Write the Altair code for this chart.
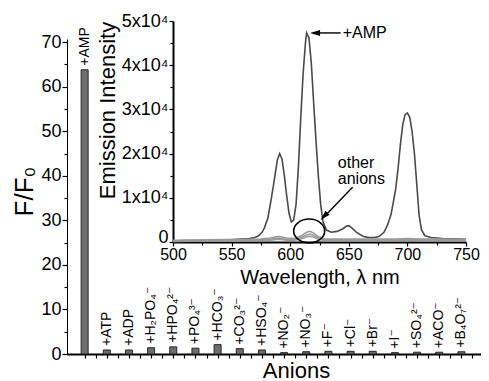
import altair as alt
import pandas as pd

# ---------------- data ----------------
anions = ["+AMP", "+ATP", "+ADP", "+H₂PO₄⁻", "+HPO₄²⁻", "+PO₄³⁻", "+HCO₃⁻", "+CO₃²⁻",
          "+HSO₄⁻", "+NO₂⁻", "+NO₃⁻", "+F⁻", "+Cl⁻", "+Br⁻", "+I⁻", "+SO₄²⁻", "+ACO⁻", "+B₄O₇²⁻"]
ratios = [63.8, 0.9, 0.9, 1.4, 1.6, 1.3, 2.1, 1.2, 0.9, 0.3, 0.5, 0.6, 0.6, 0.6, 0.3, 0.4, 0.4, 0.5]

wavelengths = [500, 510, 520, 530, 540, 550, 560, 565, 570, 573, 576, 578, 581, 584, 587, 589, 591, 593, 595,
               597, 599, 601, 603, 605, 607, 609, 611, 613, 614, 616, 618, 620, 622, 624, 626, 628, 631, 635, 640,
               645, 648, 650, 653, 657, 662, 667, 672, 676, 680, 683, 686, 688, 690, 692, 694, 696, 698, 700, 702,
               704, 706, 708, 710, 712, 715, 720, 730, 740, 750]
amp_intensity = [0.02, 0.03, 0.03, 0.04, 0.05, 0.05, 0.07, 0.08, 0.1, 0.14, 0.22, 0.32, 0.55, 1.0, 1.5, 1.85, 2.0, 1.88, 1.5,
                 1.05, 0.65, 0.45, 0.5, 0.85, 1.7, 2.8, 3.8, 4.5, 4.73, 4.62, 4.05, 3.15, 2.3, 1.5, 0.85, 0.45, 0.27, 0.22, 0.24,
                 0.3, 0.36, 0.37, 0.31, 0.21, 0.13, 0.1, 0.1, 0.13, 0.22, 0.38, 0.62, 0.9, 1.2, 1.65, 2.2, 2.65, 2.88, 2.92, 2.82,
                 2.5, 2.0, 1.3, 0.6, 0.28, 0.14, 0.1, 0.08, 0.07, 0.06]

other_wavelengths = [500, 530, 560, 575, 583, 590, 597, 604, 610, 614, 617, 620, 624, 630, 645, 660, 690, 700, 710, 730, 750]
other_a = [0.04, 0.05, 0.06, 0.07, 0.09, 0.13, 0.09, 0.08, 0.15, 0.22, 0.24, 0.2, 0.12, 0.07, 0.07, 0.07, 0.07, 0.08, 0.07, 0.07, 0.06]
other_b = [0.02, 0.03, 0.04, 0.05, 0.06, 0.09, 0.06, 0.06, 0.11, 0.16, 0.18, 0.15, 0.09, 0.05, 0.05, 0.05, 0.05, 0.06, 0.05, 0.05, 0.04]
other_c = [0.01, 0.02, 0.02, 0.03, 0.04, 0.06, 0.04, 0.04, 0.08, 0.12, 0.13, 0.11, 0.06, 0.03, 0.03, 0.03, 0.03, 0.04, 0.03, 0.03, 0.03]

# annotations (inset data coordinates: nm, x10^4)
ellipse_pos = {"wl": 616.2, "I": 0.25}
arrow_amp = {"wl": 643.1, "wl2": 623.7, "I": 4.73, "I2": 4.73}
arrow_amp_head = {"wl": 621.2, "I": 4.73, "angle": 0}
arrow_other = {"wl": 653.2, "wl2": 629.6, "I": 1.24, "I2": 0.59}
arrow_other_head = {"wl": 628.9, "I": 0.58, "angle": 314}
notes = [{"wl": 644.8, "I": 4.73, "t": "+AMP"},
         {"wl": 640.6, "I": 1.79, "t": "other"},
         {"wl": 640.6, "I": 1.43, "t": "anions"}]

FONT = "Liberation Sans, Arial, DejaVu Sans, sans-serif"

# ---------------- main bar chart ----------------
bars_df = pd.DataFrame({"idx": list(range(len(anions))), "anion": anions, "ratio": ratios})

x_main = alt.X("idx:Q",
               scale=alt.Scale(domain=[-0.57, 17.93], range=[0, 420], nice=False, zero=False),
               axis=alt.Axis(values=[i * 0.5 for i in range(0, 36)], labels=False, tickSize=4,
                             domainWidth=2, title="Anions", titleFontSize=22, titleX=229, titleY=16,
                             titleBaseline="middle", titleAlign="center"))
y_main = alt.Y("ratio:Q",
               scale=alt.Scale(domain=[0, 70.7], nice=False),
               axis=alt.Axis(values=[i * 5 for i in range(15)],
                             labelExpr="datum.value % 10 == 0 ? datum.label : ''",
                             tickSize={"condition": {"test": "datum.value % 10 == 0", "value": 5}, "value": 3},
                             labelFontSize=18, labelPadding=1, labelOverlap=False,
                             title="F/F₀", titleFontSize=26, titleAngle=270, titleX=-43, titleY=152,
                             titleAlign="center", titleBaseline="middle"))

bars = alt.Chart(bars_df).mark_bar(size=7, color="#6e6e6e", stroke="#262626", strokeWidth=1).encode(
    x=x_main, y=y_main)
bar_labels = alt.Chart(bars_df).mark_text(angle=270, align="left", baseline="middle", dx=4,
                                          fontSize=14, font=FONT, color="black").encode(
    x=x_main, y=y_main, text="anion:N")

main = alt.layer(bars, bar_labels)

# ---------------- inset spectrum ----------------
xs = alt.Scale(domain=[500, 750], range=[106, 399], nice=False, zero=False)
ys = alt.Scale(domain=[0, 5], range=[203, -18], nice=False, zero=False)

amp_df = pd.DataFrame({"wl": wavelengths, "I": amp_intensity})
oth_rows = []
for name, vals in [("a", other_a), ("b", other_b), ("c", other_c)]:
    for w, v in zip(other_wavelengths, vals):
        oth_rows.append({"wl": w, "I": v, "s": name})
oth_df = pd.DataFrame(oth_rows)

x_inset = alt.X("wl:Q", scale=xs,
                axis=alt.Axis(orient="bottom", offset=-112, values=list(range(500, 751, 25)),
                              labelExpr="datum.value % 50 == 0 ? datum.label : ''",
                              tickSize={"condition": {"test": "datum.value % 50 == 0", "value": 4}, "value": 3},
                              labelFontSize=16, labelPadding=0, labelOverlap=False, labelFlush=False,
                              domainWidth=2, title="Wavelength, λ nm", titleFontSize=20, titleY=35,
                              titleBaseline="middle", titleAlign="center"))
y_inset = alt.Y("I:Q", scale=ys,
                axis=alt.Axis(orient="left", offset=-106, values=[i * 0.5 for i in range(11)],
                              labelExpr="datum.value == 0 ? '0' : (datum.value % 1 == 0 ? datum.value + 'x10⁴' : '')",
                              labelBaseline={"condition": {"test": "datum.value == 0", "value": "alphabetic"},
                                             "value": "middle"},
                              tickSize={"condition": {"test": "datum.value % 1 == 0", "value": 4}, "value": 3},
                              labelFontSize=18, labelPadding=1, labelOverlap=False, labelFlush=False,
                              domainWidth=2, title="Emission Intensity", titleFontSize=22, titleAngle=270,
                              titleX=-66, titleY=71, titleAlign="center", titleBaseline="middle"))

amp_line = alt.Chart(amp_df).mark_line(color="#4a4a4a", strokeWidth=1.6).encode(x=x_inset, y=y_inset)
oth_lines = alt.Chart(oth_df).mark_line(color="#9a9a9a", strokeWidth=1.5).encode(
    x=x_inset, y=y_inset, detail="s:N")

ellipse_path = ("M -1 0 C -1 -0.425 -0.5523 -0.77 0 -0.77 C 0.5523 -0.77 1 -0.425 1 0 "
                "C 1 0.425 0.5523 0.77 0 0.77 C -0.5523 0.77 -1 0.425 -1 0 Z")
ellipse = alt.Chart(pd.DataFrame([ellipse_pos])).mark_point(
    shape=ellipse_path, size=961, filled=False, stroke="black", strokeWidth=1.6, opacity=1).encode(
    x=x_inset, y=y_inset)

rules_df = pd.DataFrame([arrow_amp, arrow_other])
arrow_lines = alt.Chart(rules_df).mark_rule(color="black", strokeWidth=1.4).encode(
    x=x_inset, x2="wl2:Q", y=y_inset, y2="I2:Q")

head_path = "M -1 0 L 1 -0.6 L 1 0.6 Z"
heads_df = pd.DataFrame([arrow_amp_head, arrow_other_head])
arrow_heads = alt.Chart(heads_df).mark_point(shape=head_path, size=100, filled=True, color="black",
                                             opacity=1).encode(
    x=x_inset, y=y_inset, angle=alt.Angle("angle:Q", scale=None))

notes_text = alt.Chart(pd.DataFrame(notes)).mark_text(align="left", baseline="middle", fontSize=16,
                                                      font=FONT, color="black").encode(
    x=x_inset, y=y_inset, text="t:N")

inset = alt.layer(amp_line, oth_lines, ellipse, arrow_lines, arrow_heads, notes_text)

chart = alt.layer(main, inset).resolve_scale(
    x="independent", y="independent"
).properties(
    width=414, height=315,
    autosize=alt.AutoSizeParams(type="none"),
    padding={"left": 59, "top": 31, "right": 0, "bottom": 27},
).configure_view(stroke=None).configure_axis(
    labelFont=FONT, titleFont=FONT, labelColor="black", titleColor="black",
    domainColor="black", tickColor="black", tickWidth=1.2, grid=False, titleFontWeight="normal"
).configure_text(font=FONT)

chart.save("out.html", embed_options={"renderer": "svg", "actions": False})
